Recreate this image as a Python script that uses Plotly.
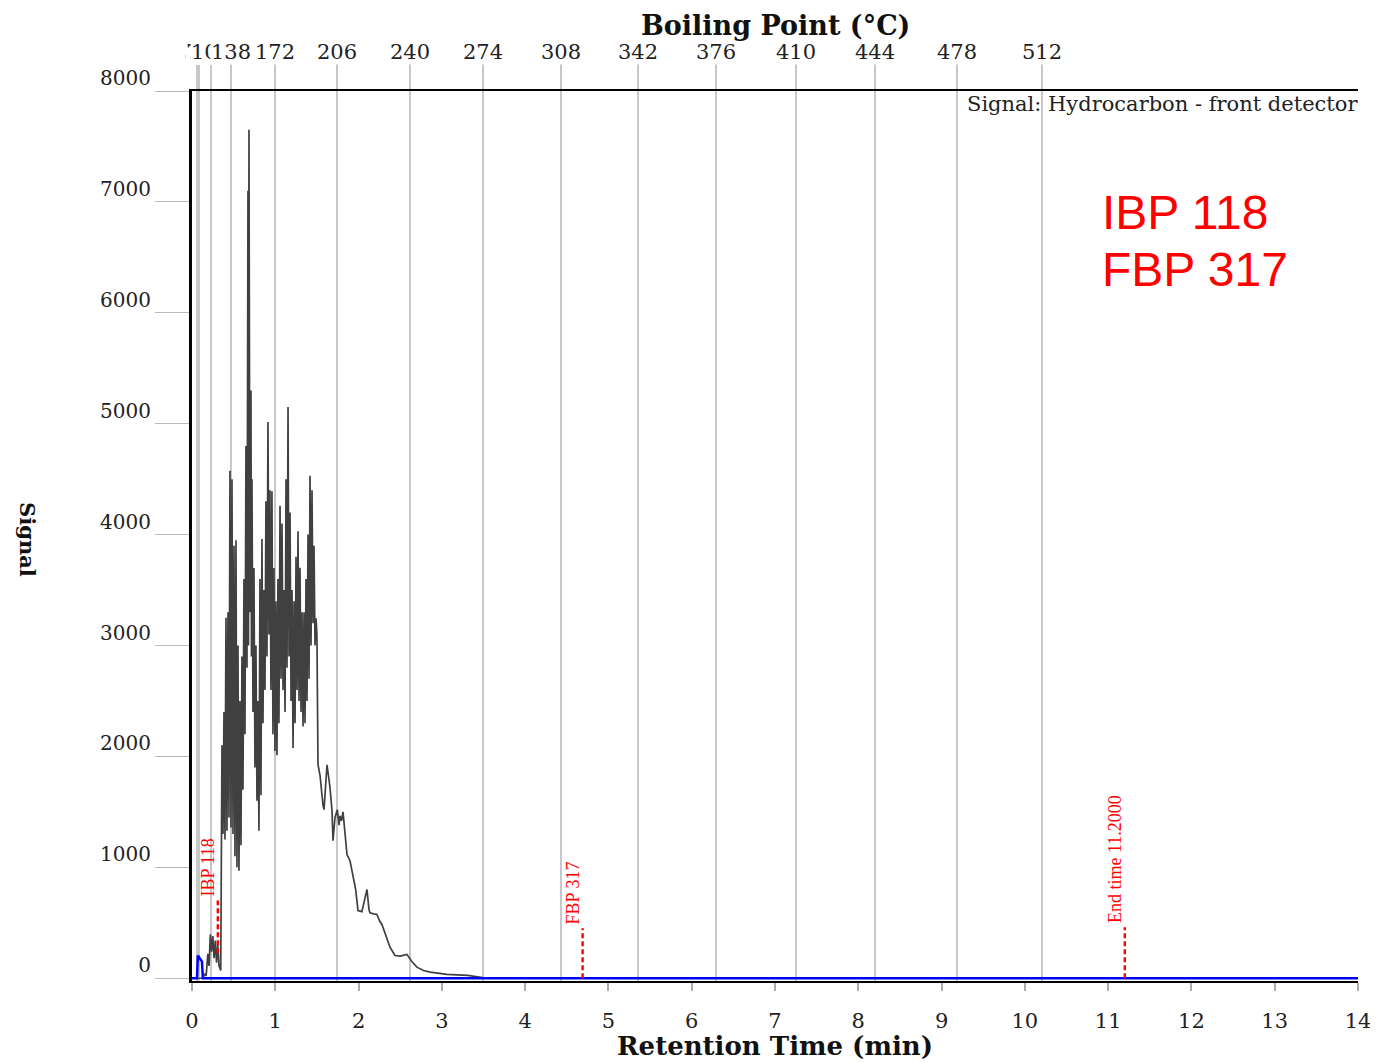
import plotly.graph_objects as go

# ---------------- data ----------------
rt_min = [0.00, 0.13, 0.15, 0.17, 0.19, 0.205, 0.22, 0.235, 0.25, 0.265, 0.28, 0.295, 0.31, 0.325, 0.345,
          0.360, 0.372, 0.384, 0.396, 0.408, 0.420, 0.432, 0.444, 0.456, 0.468, 0.480, 0.492,
          0.504, 0.516, 0.528, 0.540, 0.552, 0.564, 0.576, 0.588, 0.600, 0.612, 0.624, 0.636,
          0.648, 0.660, 0.672, 0.678, 0.684, 0.696, 0.708, 0.714, 0.720, 0.732, 0.744, 0.756,
          0.768, 0.780, 0.792, 0.804, 0.816, 0.828, 0.840, 0.852, 0.864, 0.876, 0.888, 0.900,
          0.912, 0.924, 0.936, 0.948, 0.960, 0.972, 0.984, 0.996, 1.008, 1.020, 1.032, 1.044,
          1.057, 1.069, 1.081, 1.093, 1.105, 1.117, 1.129, 1.141, 1.153, 1.165, 1.177, 1.189,
          1.201, 1.213, 1.225, 1.237, 1.249, 1.261, 1.273, 1.285, 1.297, 1.309, 1.321, 1.333,
          1.345, 1.357, 1.369, 1.381, 1.393, 1.405, 1.417, 1.429, 1.441, 1.453, 1.465, 1.477,
          1.489, 1.500, 1.513, 1.537, 1.561, 1.573, 1.585, 1.621, 1.657, 1.681, 1.693, 1.717,
          1.745, 1.765, 1.777, 1.795, 1.813, 1.837, 1.861, 1.897, 1.933, 1.965, 1.993, 2.040,
          2.070, 2.101, 2.125, 2.137, 2.180, 2.221, 2.250, 2.280, 2.330, 2.377, 2.437, 2.500,
          2.580, 2.640, 2.700, 2.780, 2.860, 3.060, 3.310, 3.490, 3.700, 14.00]
signal = [0, 0, 40, 20, 220, 110, 395, 240, 380, 180, 340, 140, 300, 110, 70,
          2100, 1300, 2400, 1250, 3250, 1330, 3300, 1450, 4575, 1360, 4500, 1300,
          3900, 1100, 3950, 1000, 3000, 970, 2500, 1200, 2900, 1700, 3600, 2200,
          4800, 2800, 7100, 3000, 7650, 3300, 5300, 2900, 4500, 2400, 3700, 1900,
          3000, 1600, 2500, 1330, 3600, 1650, 3960, 2300, 3500, 2600, 4300, 2900,
          5015, 3100, 4400, 2600, 4390, 2200, 3700, 2050, 3400, 2010, 3600, 2300,
          4260, 2700, 4100, 2600, 3500, 2400, 4500, 2800, 5150, 2900, 4200, 2500,
          3500, 2075, 3400, 2300, 3800, 2600, 4030, 2500, 3700, 2400, 3300, 2270,
          3300, 2300, 3600, 2500, 4000, 2700, 4530, 3000, 4400, 3200, 3900, 3000,
          3245, 3100, 1925, 1830, 1630, 1560, 1520, 1925, 1720, 1510, 1240, 1450,
          1520, 1380, 1465, 1420, 1500, 1270, 1115, 1060, 935, 800, 610, 600,
          700, 800, 620, 590, 580, 575, 520, 485, 380, 280, 205, 200,
          215, 150, 100, 70, 55, 35, 25, 5, 0, 0]

blank_rt = [0.00, 0.060, 0.070, 0.120, 0.130, 14.00]
blank_signal = [0, 0, 205, 150, 0, 0]

bp_labels = ["36", "70", "104", "138", "172", "206", "240", "274", "308",
             "342", "376", "410", "444", "478", "512"]
bp_rt = [0.060, 0.084, 0.228, 0.468, 0.997, 1.741, 2.617, 3.494, 4.431,
         5.355, 6.292, 7.253, 8.201, 9.185, 10.206]

x_ticks = list(range(0, 15))
y_ticks = list(range(0, 8001, 1000))

marker_names = ["IBP 118", "FBP 317", "End time 11.2000"]
marker_rt = [0.31, 4.69, 11.2]
marker_low = [225, 0, 0]
marker_high = [700, 450, 460]

IBP_FBP_TEXT = ["IBP 118", "FBP 317"]

SERIF = "DejaVu Serif"

fig = go.Figure()

# gray boiling point lines come from xaxis2 grid; dummy trace so axis is drawn
fig.add_trace(go.Scatter(x=[bp_rt[0]], y=[0], xaxis="x2", mode="markers",
                         marker=dict(opacity=0), hoverinfo="skip", showlegend=False))

fig.add_trace(go.Scatter(x=rt_min, y=signal, mode="lines",
                         line=dict(color="#404040", width=1.7), showlegend=False))
fig.add_trace(go.Scatter(x=blank_rt, y=blank_signal, mode="lines",
                         line=dict(color="#0000ff", width=2.5), showlegend=False))

for name, t, lo, hi in zip(marker_names, marker_rt, marker_low, marker_high):
    fig.add_trace(go.Scatter(x=[t, t], y=[lo, hi], mode="lines",
                             line=dict(color="#ff0000", width=2.4, dash="5px,3px"),
                             showlegend=False))
    fig.add_annotation(x=t, y=hi, xref="x", yref="y", text=name, textangle=-90,
                       showarrow=False, xanchor="center", yanchor="bottom",
                       xshift=-10, yshift=2,
                       font=dict(family="Liberation Serif", size=18, color="#ff0000"))

# boiling point labels (white boxes overlapping like the original)
for lab, t in zip(bp_labels, bp_rt):
    fig.add_annotation(x=t, y=1.044, xref="x", yref="paper", text=lab,
                       showarrow=False, xanchor="center", yanchor="middle",
                       bgcolor="white", borderpad=0,
                       font=dict(family=SERIF, size=21, color="#222222"))

fig.add_annotation(x=0.5, y=1.074, xref="paper", yref="paper",
                   xanchor="center", yanchor="middle",
                   text="<b>Boiling Point (°C)</b>", showarrow=False,
                   font=dict(family=SERIF, size=27, color="#111111"))
fig.add_annotation(x=0.5, y=-0.0725, xref="paper", yref="paper",
                   xanchor="center", yanchor="middle",
                   text="<b>Retention Time (min)</b>", showarrow=False,
                   font=dict(family=SERIF, size=26, color="#111111"))
fig.add_annotation(x=-0.1407, y=0.4955, xref="paper", yref="paper",
                   xanchor="center", yanchor="middle",
                   text="<b>Signal</b>", textangle=90, showarrow=False,
                   font=dict(family=SERIF, size=21, color="#111111"))
fig.add_annotation(x=1.0017, y=0.985, xref="paper", yref="paper",
                   text="Signal: Hydrocarbon - front detector", showarrow=False,
                   xanchor="right", yanchor="middle",
                   font=dict(family=SERIF, size=21, color="#222222"))
for i, txt in enumerate(IBP_FBP_TEXT):
    fig.add_annotation(x=0.7787, y=[0.864, 0.799][i], xref="paper", yref="paper",
                       text=txt, showarrow=False, xanchor="left", yanchor="middle",
                       font=dict(family="Liberation Sans", size=48, color="#ff0000"))

fig.update_layout(
    width=1370, height=1054,
    margin=dict(l=184, r=20, t=83, b=81, autoexpand=False),
    plot_bgcolor="white", paper_bgcolor="white",
    showlegend=False,
    xaxis=dict(range=[0, 14], tickvals=x_ticks, ticks="outside", ticklen=8,
               tickcolor="#aaaaaa", tickwidth=1.5, showgrid=False, zeroline=False,
               showline=True, linecolor="black", linewidth=2, layer="below traces",
               ticklabelstandoff=12,
               tickfont=dict(family=SERIF, size=21, color="#222222")),
    xaxis2=dict(range=[0, 14], overlaying="x", side="top", tickvals=bp_rt,
                showticklabels=False, ticks="outside", ticklen=26, tickwidth=2,
                tickcolor="#c8c8c8", showgrid=True, gridcolor="#c8c8c8", gridwidth=2,
                zeroline=False, showline=True, linecolor="black", linewidth=2),
    yaxis=dict(range=[-25, 8000], tickvals=y_ticks, ticks="outside", ticklen=34,
               tickcolor="#bbbbbb", tickwidth=1, showgrid=False, zeroline=False,
               showline=True, linecolor="black", linewidth=3, ticklabelshift=-13,
               ticklabelstandoff=0, layer="below traces",
               tickfont=dict(family=SERIF, size=20, color="#222222")),
)

fig.write_html("out.html")
